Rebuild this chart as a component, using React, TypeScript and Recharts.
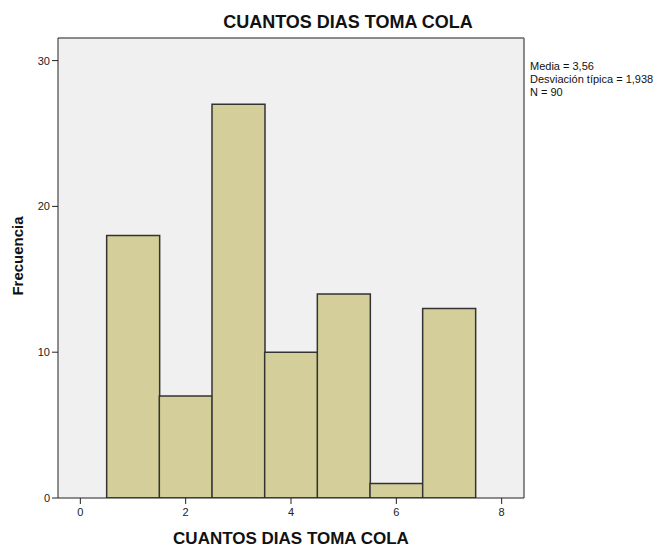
import { Bar, BarChart, CartesianGrid, XAxis, YAxis } from "recharts";

// bins 0..8 (bin centres), empty bins are null
const bins = [0, 1, 2, 3, 4, 5, 6, 7, 8];
const counts = [null, 18, 7, 27, 10, 14, 1, 13, null];
const xTicks = [0, 2, 4, 6, 8];
const yTicks = [0, 10, 20, 30];
const statLines = ["Media = 3,56", "Desviación típica = 1,938", "N = 90"];

const Y_MAX = 31.55;

const data = bins.map((bin, i) => ({ bin, count: counts[i] }));

const FONT = "Arial, 'Liberation Sans', sans-serif";

export default function App() {
  return (
    <div
      style={{
        position: "absolute",
        left: 0,
        top: 0,
        width: 668,
        height: 548,
        background: "#fff",
        fontFamily: FONT,
      }}
    >
      <BarChart
        width={668}
        height={548}
        data={data}
        margin={{ top: 38, right: 144, left: 0, bottom: 0 }}
        barCategoryGap={0}
        barGap={0}
      >
        <CartesianGrid
          fill="#f0f0f0"
          stroke="#666"
          strokeWidth={1.5}
          horizontalPoints={[38]}
          verticalPoints={[524]}
        />
        <XAxis
          dataKey="bin"
          type="category"
          ticks={xTicks}
          interval={0}
          padding={{ left: -4, right: -4 }}
          height={50}
          stroke="#222"
          tickLine={{ stroke: "#222" }}
          tickSize={6}
          tickMargin={4}
          tick={{ fill: "#222", fontSize: 11, fontFamily: FONT }}
          label={{
            value: "CUANTOS DIAS TOMA COLA",
            position: "insideBottom",
            offset: 4,
            fill: "#111",
            fontSize: 17,
            fontWeight: "bold",
            fontFamily: FONT,
          }}
        />
        <YAxis
          type="number"
          domain={[0, Y_MAX]}
          ticks={yTicks}
          allowDataOverflow
          width={58}
          stroke="#222"
          tickLine={{ stroke: "#222" }}
          tickSize={6}
          tick={{ fill: "#222", fontSize: 11, fontFamily: FONT }}
        />
        <Bar
          dataKey="count"
          fill="#d4cf9a"
          stroke="#333"
          strokeWidth={1.5}
          isAnimationActive={false}
        />
        <text
          x={17}
          y={256}
          transform="rotate(-90 17 256)"
          textAnchor="middle"
          dominantBaseline="central"
          fontSize={15}
          fontWeight="bold"
          fontFamily={FONT}
          fill="#111"
        >
          Frecuencia
        </text>
        <text
          x={348}
          y={28}
          textAnchor="middle"
          fontSize={18}
          fontWeight="bold"
          fontFamily={FONT}
          fill="#111"
        >
          CUANTOS DIAS TOMA COLA
        </text>
        {statLines.map((line, i) => (
          <text
            key={line}
            x={530}
            y={70 + i * 13}
            fontSize={11}
            fontFamily={FONT}
            fill="#111"
          >
            {line}
          </text>
        ))}
      </BarChart>
    </div>
  );
}
